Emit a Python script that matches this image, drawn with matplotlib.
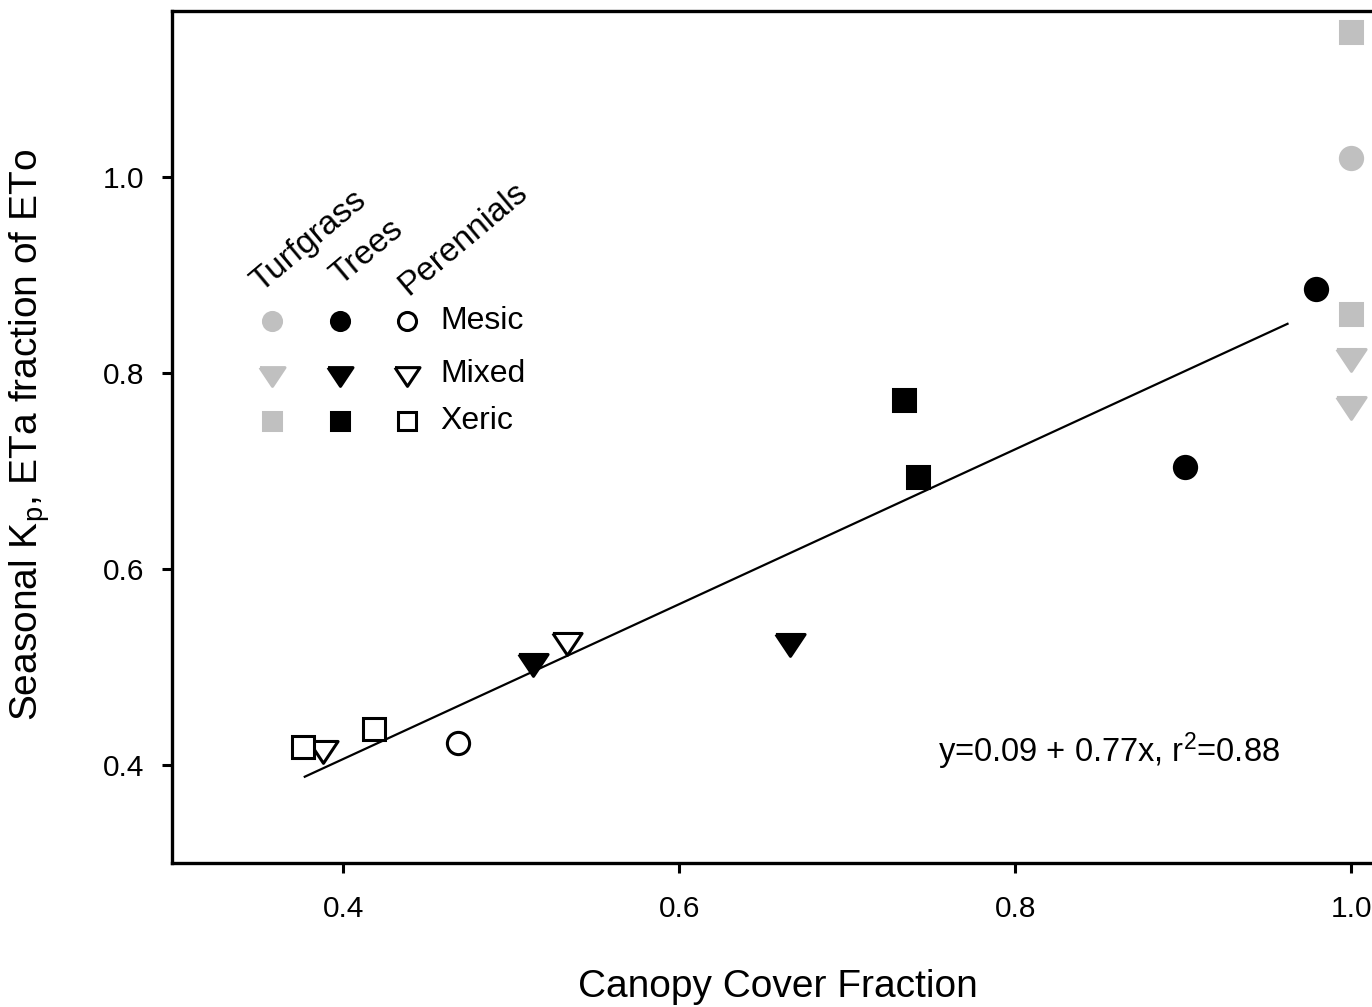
import numpy as np
import matplotlib
matplotlib.use("Agg")
import matplotlib.pyplot as plt

plt.rcParams['font.family'] = ['Liberation Sans', 'DejaVu Sans']
plt.rcParams['mathtext.fontset'] = 'custom'
plt.rcParams['mathtext.rm'] = 'Liberation Sans'
plt.rcParams['mathtext.it'] = 'Liberation Sans'

# data
# turfgrass (grey), all at full canopy cover
turf_mesic_x = [1.0]
turf_mesic_y = [1.019]
turf_mixed_x = [1.0, 1.0]
turf_mixed_y = [0.816, 0.767]
turf_xeric_x = [1.0, 1.0]
turf_xeric_y = [1.148, 0.860]

# trees (black)
tree_mesic_x = [0.979, 0.901]
tree_mesic_y = [0.885, 0.704]
tree_mixed_x = [0.513, 0.666]
tree_mixed_y = [0.505, 0.525]
tree_xeric_x = [0.734, 0.742]
tree_xeric_y = [0.772, 0.694]

# perennials (open)
per_mesic_x = [0.468]
per_mesic_y = [0.422]
per_mixed_x = [0.388, 0.533]
per_mixed_y = [0.416, 0.526]
per_xeric_x = [0.376, 0.418]
per_xeric_y = [0.418, 0.437]

# regression line end points
fit_x = [0.377, 0.962]
fit_y = [0.388, 0.850]
fit_label = "y=0.09 + 0.77x, r$^{2}$=0.88"

groups = ["Turfgrass", "Trees", "Perennials"]
classes = ["Mesic", "Mixed", "Xeric"]

grey = "#c0c0c0"
fig = plt.figure(figsize=(13.72, 10.07), dpi=100)
# axes runs past the right edge, like the cropped original
ax = fig.add_axes([0.1254, 0.143, 0.982, 0.846])

# wide, flat down-triangle like the original
tri = [(-1.0, 0.55), (1.0, 0.55), (0.0, -0.95), (-1.0, 0.55)]
style = {"Mesic": ("o", 16), "Mixed": (tri, 21), "Xeric": ("s", 16)}
face = {"Turfgrass": grey, "Trees": "black", "Perennials": "white"}
edge = {"Turfgrass": grey, "Trees": "black", "Perennials": "black"}

series = {
    ("Turfgrass", "Mesic"): (turf_mesic_x, turf_mesic_y),
    ("Turfgrass", "Mixed"): (turf_mixed_x, turf_mixed_y),
    ("Turfgrass", "Xeric"): (turf_xeric_x, turf_xeric_y),
    ("Trees", "Mesic"): (tree_mesic_x, tree_mesic_y),
    ("Trees", "Mixed"): (tree_mixed_x, tree_mixed_y),
    ("Trees", "Xeric"): (tree_xeric_x, tree_xeric_y),
    ("Perennials", "Mesic"): (per_mesic_x, per_mesic_y),
    ("Perennials", "Mixed"): (per_mixed_x, per_mixed_y),
    ("Perennials", "Xeric"): (per_xeric_x, per_xeric_y),
}

ax.plot(fit_x, fit_y, color="black", lw=1.6, zorder=2)

for (g, c), (xs, ys) in series.items():
    m, ms = style[c]
    ax.plot(xs, ys, ls="none", marker=m, ms=ms, mfc=face[g], mec=edge[g],
            mew=2.2, clip_on=False, zorder=3)

# hand made legend grid (axes fraction)
col_x = [0.0742, 0.1247, 0.1745]
row_y = [0.636, 0.574, 0.519]
for i, g in enumerate(groups):
    for j, c in enumerate(classes):
        m, ms = style[c]
        ax.plot(col_x[i], row_y[j], ls="none", marker=m, ms=ms - 3,
                mfc=face[g], mec=edge[g], mew=2.2, transform=ax.transAxes)
for j, c in enumerate(classes):
    ax.text(0.199, row_y[j], c, transform=ax.transAxes, fontsize=23,
            va="center", ha="left")
head_x = [0.0660, 0.1250, 0.1750]
head_y = [0.670, 0.677, 0.666]
for i, g in enumerate(groups):
    ax.text(head_x[i], head_y[i], g, transform=ax.transAxes, fontsize=24,
            rotation=40, rotation_mode="anchor", ha="left", va="baseline")

ax.text(0.754, 0.414, fit_label, fontsize=23.5, va="center", ha="left")

ax.set_xlim(0.298, 1.1)
ax.set_ylim(0.3, 1.169)
ax.set_xticks([0.4, 0.6, 0.8, 1.0])
ax.set_yticks([0.4, 0.6, 0.8, 1.0])
ax.set_xticklabels(["0.4", "0.6", "0.8", "1.0"])
ax.set_yticklabels(["0.4", "0.6", "0.8", "1.0"])
ax.tick_params(direction="out", length=7, width=2.2, labelsize=21.5)
ax.tick_params(axis="x", pad=16)
ax.tick_params(axis="y", pad=13)
for s in ax.spines.values():
    s.set_linewidth(2.4)

ax.set_xlabel("Canopy Cover Fraction", fontsize=28)
ax.xaxis.set_label_coords(0.450, -0.1455)
ax.xaxis.label.set_va("center")
ax.set_ylabel(r"Seasonal K$_\mathregular{p}$, ETa fraction of ETo", fontsize=28)
ax.yaxis.set_label_coords(-0.1054, 0.502)
ax.yaxis.label.set_va("center")

fig.savefig("out.png", dpi=100)
